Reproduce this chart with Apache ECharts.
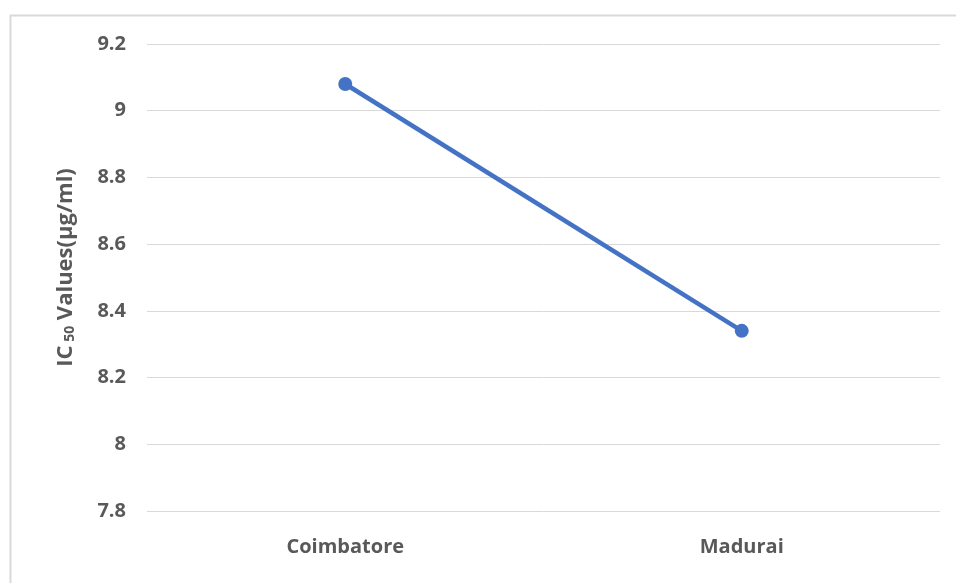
<!DOCTYPE html>
<html><head><meta charset="utf-8">
<script src="https://cdn.jsdelivr.net/npm/echarts@6/dist/echarts.min.js"></script>
<style>html,body{margin:0;padding:0;background:#fff}#c{width:956px;height:583px}</style>
</head><body><div id="c"></div>
<script>
const categories = ['Coimbatore', 'Madurai'];
const ic50Values = [9.08, 8.34];
const yMin = 7.8, yMax = 9.2, yStep = 0.2;

const chart = echarts.init(document.getElementById('c'));
const font = '"Open Sans", sans-serif';
chart.setOption({
  animation: false,
  graphic: [{type:'rect', shape:{x:10.5,y:15.5,width:980,height:620}, style:{fill:'none', stroke:'#d9d9d9', lineWidth:2}, silent:true}],
  grid: {left:147, right:16, top:44, bottom:72},
  xAxis: {
    type:'category', data:categories, boundaryGap:true,
    axisLine:{show:false}, axisTick:{show:false},
    axisLabel:{color:'#595959', fontWeight:'bold', fontSize:20, fontFamily:font, margin:26}
  },
  yAxis: {
    type:'value', min:yMin, max:yMax, interval:yStep,
    axisLine:{show:false}, axisTick:{show:false},
    splitLine:{lineStyle:{color:'#d9d9d9', width:1}},
    axisLabel:{color:'#595959', fontWeight:'bold', fontSize:20, fontFamily:font, margin:21,
      formatter: v => String(Math.round(v*10)/10)},
    name:'{p|}{a|IC}{s| 50}{a| Values(µg/ml)}', nameLocation:'middle', nameGap:70, nameRotate:90,
    nameTextStyle:{rich:{
      p:{width:20},
      a:{color:'#595959', fontWeight:'bold', fontSize:22, fontFamily:font},
      s:{color:'#595959', fontWeight:'bold', fontSize:14, fontFamily:font, verticalAlign:'bottom', padding:[9,0,0,0]}
    }}
  },
  series: [{
    type:'line', data:ic50Values, symbol:'circle', symbolSize:14,
    lineStyle:{color:'#4472C4', width:4.5}, itemStyle:{color:'#4472C4'}
  }]
});
</script></body></html>
